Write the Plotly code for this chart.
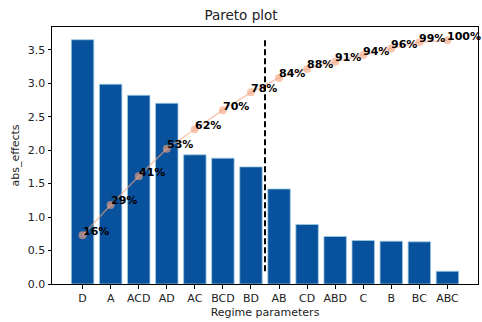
import plotly.graph_objects as go

categories = ["D", "A", "ACD", "AD", "AC", "BCD", "BD", "AB", "CD", "ABD", "C", "B", "BC", "ABC"]
abs_effects = [3.65, 2.985, 2.82, 2.70, 1.93, 1.88, 1.75, 1.42, 0.89, 0.71, 0.65, 0.64, 0.63, 0.19]
cum_labels = ["16%", "29%", "41%", "53%", "62%", "70%", "78%", "84%", "88%", "91%", "94%", "96%", "99%", "100%"]

total = sum(abs_effects)
cum_pct = []
s = 0.0
for v in abs_effects:
    s += v
    cum_pct.append(100.0 * s / total)

idx = list(range(len(categories)))
font = "DejaVu Sans"

fig = go.Figure()
fig.add_trace(go.Bar(
    x=idx, y=abs_effects, width=0.8,
    marker=dict(color="#08519c", line=dict(color="#9ecae1", width=0.8)),
    showlegend=False, hoverinfo="skip",
))
fig.add_trace(go.Scatter(
    x=idx, y=cum_pct, yaxis="y2", mode="lines+markers",
    line=dict(color="rgba(244,165,130,0.62)", width=1.5),
    marker=dict(color="rgba(244,165,130,0.62)", size=8),
    showlegend=False, hoverinfo="skip",
))

annotations = []
for i, (p, lab) in enumerate(zip(cum_pct, cum_labels)):
    annotations.append(dict(
        x=i, y=p, xref="x", yref="y2", text="<b>" + lab + "</b>",
        showarrow=False, xanchor="left", yanchor="middle", yshift=4, xshift=-2,
        font=dict(family=font, size=11, color="black"),
    ))

fig.add_shape(type="line", x0=6.5, x1=6.5, y0=min(abs_effects), y1=max(abs_effects),
              xref="x", yref="y", line=dict(color="black", width=2, dash="6px,3px"))

fig.update_layout(
    width=482, height=322,
    margin=dict(l=52, r=4, t=27, b=38),
    paper_bgcolor="white", plot_bgcolor="white",
    font=dict(family=font, size=11, color="#222"),
    title=dict(text="Pareto plot", x=0.5, xanchor="center", y=1 - 15 / 322, yanchor="middle",
               font=dict(family=font, size=13.5, color="#222")),
    xaxis=dict(
        range=[-1.09, 14.09], tickmode="array", tickvals=idx, ticktext=categories,
        showline=True, mirror=True, linecolor="black", linewidth=1,
        ticks="outside", ticklen=3.5, tickcolor="black", showgrid=False, zeroline=False,
        tickfont=dict(family=font, size=11, color="#222"),
        title=dict(text="Regime parameters", standoff=4, font=dict(family=font, size=11, color="#222")),
    ),
    yaxis=dict(
        range=[0, 3.84], tickmode="array", tickvals=[0, 0.5, 1.0, 1.5, 2.0, 2.5, 3.0, 3.5],
        ticktext=["0.0", "0.5", "1.0", "1.5", "2.0", "2.5", "3.0", "3.5"],
        showline=True, mirror=True, linecolor="black", linewidth=1,
        ticks="outside", ticklen=3.5, tickcolor="black", showgrid=False, zeroline=False,
        tickfont=dict(family=font, size=11, color="#222"),
        title=dict(text="abs_effects", standoff=5, font=dict(family=font, size=11, color="#222")),
    ),
    yaxis2=dict(
        overlaying="y", range=[-5.0, 105.7], visible=False, showgrid=False, zeroline=False,
    ),
    annotations=annotations,
)

fig.write_html("out.html")
